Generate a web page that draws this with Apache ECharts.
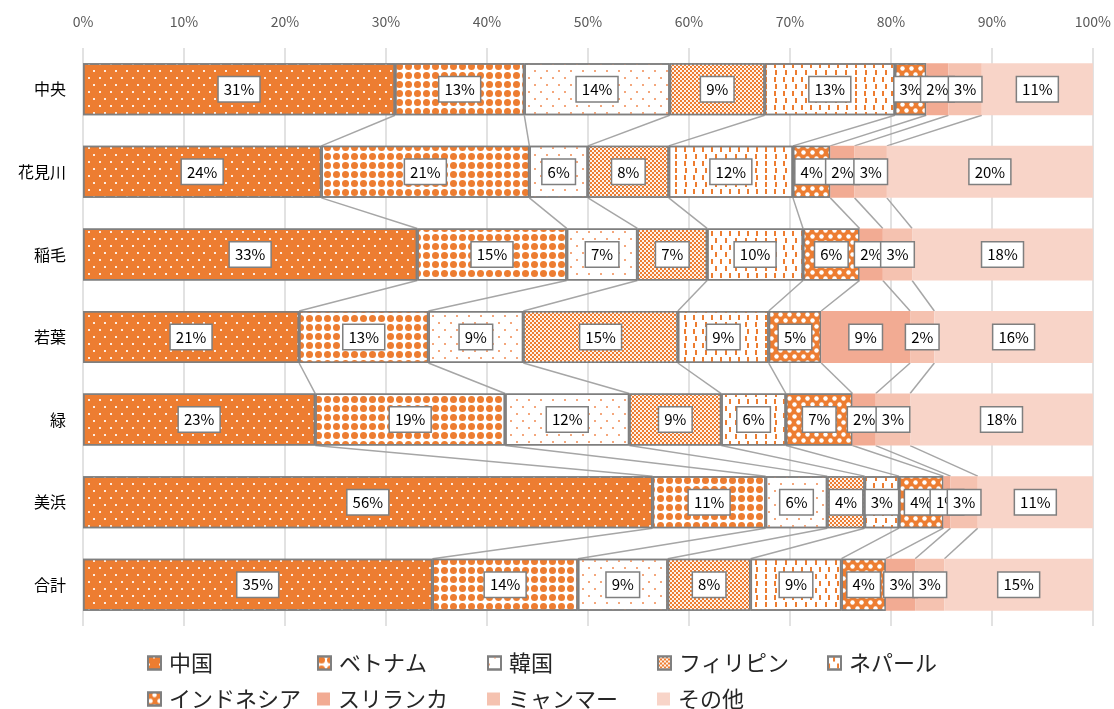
<!DOCTYPE html>
<html>
<head>
<meta charset="utf-8">
<style>
  html, body { margin: 0; padding: 0; background: #fff; }
  #chart1 { width: 1114px; height: 709px; }
</style>
<script src="https://cdn.jsdelivr.net/npm/echarts@6/dist/echarts.min.js"></script>
</head>
<body>
<div id="chart1"></div>
<script>
// areas (top to bottom)
var areas = ['中央', '花見川', '稲毛', '若葉', '緑', '美浜', '合計'];
var xTicks = [0, 10, 20, 30, 40, 50, 60, 70, 80, 90, 100];

// share of each nationality per area (%)
var china       = [30.9, 23.6, 33.1, 21.4, 23.0, 56.4, 34.6];
var vietnam     = [12.8, 20.6, 14.8, 12.8, 18.8, 11.2, 14.4];
var korea       = [14.4,  5.8,  7.0,  9.4, 12.3,  6.1,  8.9];
var philippines = [ 9.4,  8.0,  6.9, 15.3,  9.1,  3.7,  8.2];
var nepal       = [12.9, 12.3,  9.5,  9.0,  6.4,  3.4,  9.0];
var indonesia   = [ 3.1,  3.7,  5.6,  5.2,  6.6,  4.4,  4.4];
var srilanka    = [ 2.2,  2.4,  2.3,  8.8,  2.3,  0.7,  2.9];
var myanmar     = [ 3.3,  3.2,  2.9,  2.4,  3.4,  2.7,  2.9];
var others      = [11.0, 20.4, 17.9, 15.7, 18.1, 11.4, 14.7];

var names = ['中国', 'ベトナム', '韓国', 'フィリピン', 'ネパール', 'インドネシア', 'スリランカ', 'ミャンマー', 'その他'];
var values = [china, vietnam, korea, philippines, nepal, indonesia, srilanka, myanmar, others];

var ORANGE = '#ED7D31';
var BORDER = '#7F7F7F';
var BAR_RATIO = 0.63;

// fill + pattern per series
var styles = [
    {color: ORANGE, decal: {symbol: 'rect', color: 'rgba(255,255,255,0.85)', dashArrayX: [[1.5, 8.5], [0, 5, 1.5, 3.5]], dashArrayY: [1.5, 4.5], symbolSize: 1}},
    {color: '#ffffff', decal: {symbol: 'circle', color: ORANGE, dashArrayX: [7, 2], dashArrayY: [7, 1.5], symbolSize: 1}},
    {color: '#ffffff', decal: {symbol: 'rect', color: '#F4A77C', dashArrayX: [[1.5, 9.5], [0, 5.5, 1.5, 4]], dashArrayY: [1.5, 4.5], symbolSize: 1}},
    {color: ORANGE, decal: {symbol: 'rect', color: '#ffffff', dashArrayX: [[2, 2], [0, 2, 2, 0]], dashArrayY: [2, 0], symbolSize: 0.9}},
    {color: '#ffffff', decal: {symbol: 'rect', color: ORANGE, dashArrayX: [[1.5, 7], [0, 4.5, 1.5, 2.5]], dashArrayY: [5, 2], symbolSize: 1}},
    {color: ORANGE, decal: {symbol: 'circle', color: '#ffffff', dashArrayX: [[4.5, 3.5], [0, 4, 4.5, -0.5]], dashArrayY: [4.5, 1], symbolSize: 0.9}},
    {color: '#F2AB93'},
    {color: '#F5C2B0'},
    {color: '#F8D4C8'}
];

function buildSeries() {
    var series = [];
    for (var k = 0; k < names.length; k++) {
        var st = styles[k];
        var itemStyle = {color: st.color};
        if (st.decal) {
            itemStyle.decal = st.decal;
            itemStyle.borderColor = BORDER;
            itemStyle.borderWidth = 1.5;
        } else {
            itemStyle.borderWidth = 0;
        }
        series.push({
            name: names[k],
            type: 'bar',
            stack: 'total',
            barWidth: (BAR_RATIO * 100) + '%',
            data: values[k],
            itemStyle: itemStyle,
            label: {
                show: true,
                position: 'inside',
                formatter: function (p) { return Math.round(p.value) + '%'; },
                color: '#000',
                fontSize: 15,
                backgroundColor: '#fff',
                borderColor: BORDER,
                borderWidth: 1.5,
                padding: [5, 5, 4, 5]
            },
            emphasis: {disabled: true},
            z: 2
        });
    }
    return series;
}

// series lines: right edge of each segment, bar i bottom -> bar i+1 top
function buildLinks() {
    var links = [];
    var cum = areas.map(function () { return 0; });
    for (var k = 0; k < names.length - 1; k++) {
        for (var i = 0; i < areas.length; i++) cum[i] += values[k][i];
        for (var j = 0; j < areas.length - 1; j++) {
            links.push([cum[j], j, cum[j + 1], j + 1]);
        }
    }
    return links;
}

var linkSeries = {
    type: 'custom',
    coordinateSystem: 'cartesian2d',
    silent: true,
    z: 1,
    encode: {x: [0, 2], y: [1, 3]},
    data: buildLinks(),
    renderItem: function (params, api) {
        var half = api.size([0, 1])[1] * BAR_RATIO / 2;
        var p1 = api.coord([api.value(0), api.value(1)]);
        var p2 = api.coord([api.value(2), api.value(3)]);
        return {
            type: 'line',
            shape: {x1: p1[0], y1: p1[1] + half, x2: p2[0], y2: p2[1] - half},
            style: {stroke: '#A6A6A6', lineWidth: 1.5}
        };
    }
};

// legend: 5 columns x 2 rows, one legend per item
var legendLeft = [147, 317, 487, 657, 827];
var legendTop = [650, 686];
var legends = names.map(function (n, k) {
    return {
        data: [n],
        left: legendLeft[k % 5],
        top: legendTop[Math.floor(k / 5)],
        icon: 'rect',
        itemWidth: 13,
        itemHeight: 13,
        itemGap: 0,
        padding: 0,
        selectedMode: false,
        textStyle: {fontSize: 22, color: '#262626', lineHeight: 26, padding: [0, 0, 0, 3]}
    };
});

var myChart = echarts.init(document.getElementById('chart1'));
var option = {
    animation: false,
    textStyle: {fontFamily: "'Noto Sans CJK JP', 'Noto Sans', sans-serif"},
    legend: legends,
    grid: {left: 83, right: 21, top: 48, bottom: 83, containLabel: false},
    xAxis: {
        type: 'value',
        position: 'top',
        min: xTicks[0],
        max: xTicks[xTicks.length - 1],
        interval: 10,
        axisLine: {show: false},
        axisTick: {show: false},
        axisLabel: {formatter: '{value}%', color: '#595959', fontSize: 14, margin: 19},
        splitLine: {show: true, lineStyle: {color: '#D9D9D9', width: 1.5}}
    },
    yAxis: {
        type: 'category',
        inverse: true,
        data: areas,
        axisLine: {show: false},
        axisTick: {show: false},
        axisLabel: {color: '#000', fontSize: 16, margin: 17}
    },
    series: buildSeries().concat([linkSeries])
};
myChart.setOption(option);
</script>
</body>
</html>
